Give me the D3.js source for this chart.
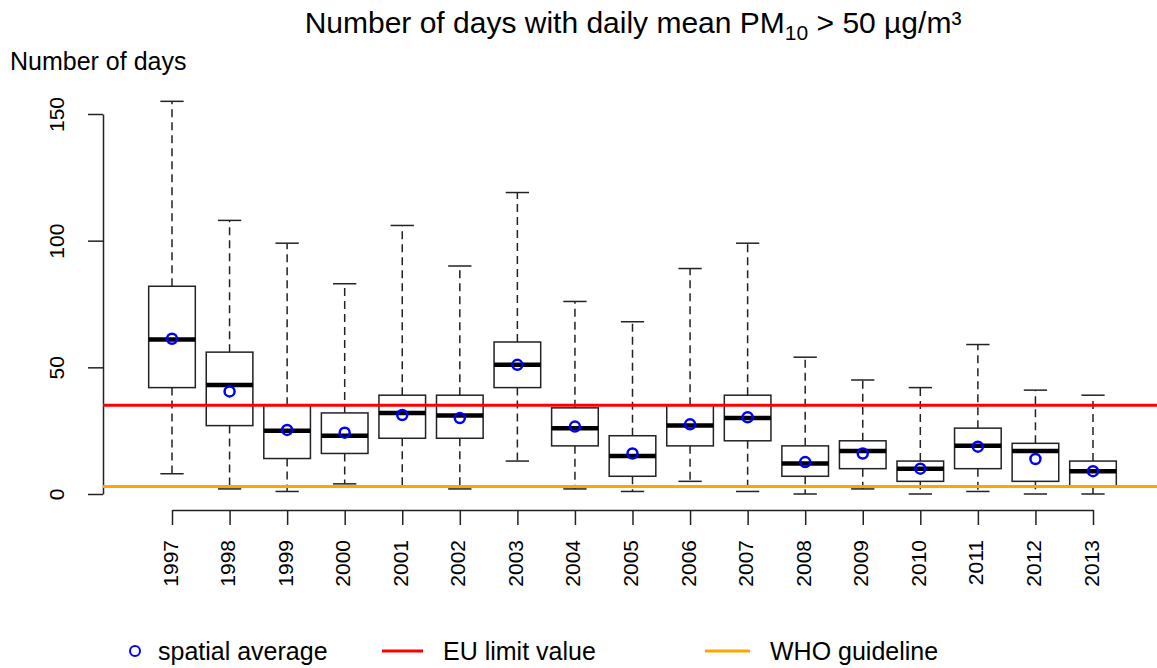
<!DOCTYPE html>
<html>
<head>
<meta charset="utf-8">
<script src="https://d3js.org/d3.v7.min.js"></script>
<style>
  body { margin: 0; background: #fff; }
  text { font-family: "Liberation Sans", Arial, sans-serif; fill: #000; }
</style>
</head>
<body>
<script>
  // data
  var years    = ["1997","1998","1999","2000","2001","2002","2003","2004","2005","2006","2007","2008","2009","2010","2011","2012","2013"]
  var whiskLo  = [8, 2, 1, 4, 3, 2, 13, 2, 1, 5, 1, 0, 2, 0, 1, 0, 0]
  var q1       = [42, 27, 14, 16, 22, 22, 42, 19, 7, 19, 21, 7, 10, 5, 10, 5, 3]
  var medians  = [61, 43, 25, 23, 32, 31, 51, 26, 15, 27, 30, 12, 17, 10, 19, 17, 9]
  var q3       = [82, 56, 35, 32, 39, 39, 60, 34, 23, 35, 39, 19, 21, 13, 26, 20, 13]
  var whiskHi  = [155, 108, 99, 83, 106, 90, 119, 76, 68, 89, 99, 54, 45, 42, 59, 41, 39]
  var means    = [61.3, 40.5, 25.3, 24.2, 31.2, 30, 51, 26.6, 16, 27.5, 30.3, 12.6, 16, 10, 18.7, 13.8, 9]
  var yTicks   = [0, 50, 100, 150]
  var euLimit  = 35
  var whoGuide = 3

  var width = 1157
  var height = 668

  var svg = d3.select("body").append("svg")
              .attr("width", width)
              .attr("height", height)

  var y = d3.scaleLinear()
            .domain([0, 150])
            .range([494, 114])

  var step = (1093 - 172) / (years.length - 1)
  var x = d3.scalePoint()
            .domain(years)
            .range([172, 1093])

  var boxW = step * 0.81

  // title
  var title = svg.append("text")
                 .attr("x", 633)
                 .attr("y", 33)
                 .attr("text-anchor", "middle")
                 .style("font-size", "30px")
  title.append("tspan").text("Number of days with daily mean PM")
  title.append("tspan").attr("dy", 7).style("font-size", "21px").text("10")
  title.append("tspan").attr("dy", -7).text(" > 50 µg/m³")

  svg.append("text")
     .attr("x", 10)
     .attr("y", 70)
     .style("font-size", "25px")
     .text("Number of days")

  // y axis
  var yAxis = svg.append("g")
                 .attr("transform", "translate(103,0)")
                 .call(d3.axisLeft(y).tickValues(yTicks).tickSize(15).tickSizeOuter(0))
  yAxis.select(".domain").attr("stroke", "#222").attr("stroke-width", 1.5)
  yAxis.selectAll(".tick line").attr("stroke", "#222").attr("stroke-width", 1.5)
  yAxis.selectAll(".tick text")
       .attr("x", null).attr("dy", null)
       .attr("transform", "translate(-39,0) rotate(-90)")
       .attr("text-anchor", "middle")
       .style("font-size", "21px")
       .style("font-family", "Liberation Sans, Arial, sans-serif")
       .attr("fill", "#000")

  // x axis
  var xAxis = svg.append("g")
                 .attr("transform", "translate(0,510)")
                 .call(d3.axisBottom(x).tickSize(15).tickSizeOuter(0))
  xAxis.select(".domain").attr("stroke", "#222").attr("stroke-width", 1.5)
  xAxis.selectAll(".tick line").attr("stroke", "#222").attr("stroke-width", 1.5)
  xAxis.selectAll(".tick text")
       .attr("y", null).attr("dy", null)
       .attr("transform", "translate(5,30) rotate(-90)")
       .attr("text-anchor", "end")
       .style("font-size", "21px")
       .style("font-family", "Liberation Sans, Arial, sans-serif")
       .attr("fill", "#000")

  var boxes = svg.append("g")
                 .selectAll("g")
                 .data(years)
                 .enter()
                 .append("g")

  // whiskers
  boxes.append("line")
       .attr("x1", function(d) { return x(d) })
       .attr("x2", function(d) { return x(d) })
       .attr("y1", function(d, i) { return y(q3[i]) })
       .attr("y2", function(d, i) { return y(whiskHi[i]) })
       .attr("stroke", "#222").attr("stroke-width", 1.5)
       .attr("stroke-dasharray", "8,5")
  boxes.append("line")
       .attr("x1", function(d) { return x(d) })
       .attr("x2", function(d) { return x(d) })
       .attr("y1", function(d, i) { return y(q1[i]) })
       .attr("y2", function(d, i) { return y(whiskLo[i]) })
       .attr("stroke", "#222").attr("stroke-width", 1.5)
       .attr("stroke-dasharray", "8,5")
  // caps
  boxes.selectAll(".cap")
       .data(function(d, i) { return [{ yr: d, v: whiskHi[i] }, { yr: d, v: whiskLo[i] }] })
       .enter()
       .append("line")
       .attr("x1", function(d) { return x(d.yr) - boxW / 4 })
       .attr("x2", function(d) { return x(d.yr) + boxW / 4 })
       .attr("y1", function(d) { return y(d.v) })
       .attr("y2", function(d) { return y(d.v) })
       .attr("stroke", "#222").attr("stroke-width", 1.5)

  boxes.append("rect")
       .attr("x", function(d) { return x(d) - boxW / 2 })
       .attr("y", function(d, i) { return y(q3[i]) })
       .attr("width", boxW)
       .attr("height", function(d, i) { return y(q1[i]) - y(q3[i]) })
       .attr("fill", "#fff")
       .attr("stroke", "#222").attr("stroke-width", 1.5)

  boxes.append("line")
       .attr("x1", function(d) { return x(d) - boxW / 2 })
       .attr("x2", function(d) { return x(d) + boxW / 2 })
       .attr("y1", function(d, i) { return y(medians[i]) })
       .attr("y2", function(d, i) { return y(medians[i]) })
       .attr("stroke", "#000").attr("stroke-width", 4.5)

  boxes.append("circle")
       .attr("cx", function(d) { return x(d) })
       .attr("cy", function(d, i) { return y(means[i]) })
       .attr("r", 5)
       .attr("fill", "none")
       .attr("stroke", "#0000ff").attr("stroke-width", 2.5)

  // reference lines
  svg.append("line")
     .attr("x1", 103).attr("x2", width)
     .attr("y1", y(euLimit)).attr("y2", y(euLimit))
     .attr("stroke", "#ff0000").attr("stroke-width", 3)
  svg.append("line")
     .attr("x1", 103).attr("x2", width)
     .attr("y1", y(whoGuide)).attr("y2", y(whoGuide))
     .attr("stroke", "#ffa500").attr("stroke-width", 3)

  // legend
  var legend = svg.append("g").attr("transform", "translate(0,651)")
  legend.append("circle").attr("cx", 135).attr("cy", 0).attr("r", 5)
        .attr("fill", "none").attr("stroke", "#0000ff").attr("stroke-width", 2)
  legend.append("text").attr("x", 158).attr("y", 9).style("font-size", "25px").text("spatial average")
  legend.append("line").attr("x1", 382).attr("x2", 423).attr("y1", 0).attr("y2", 0)
        .attr("stroke", "#ff0000").attr("stroke-width", 3)
  legend.append("text").attr("x", 443).attr("y", 9).style("font-size", "25px").text("EU limit value")
  legend.append("line").attr("x1", 705).attr("x2", 750).attr("y1", 0).attr("y2", 0)
        .attr("stroke", "#ffa500").attr("stroke-width", 3)
  legend.append("text").attr("x", 770).attr("y", 9).style("font-size", "25px").text("WHO guideline")
</script>
</body>
</html>
